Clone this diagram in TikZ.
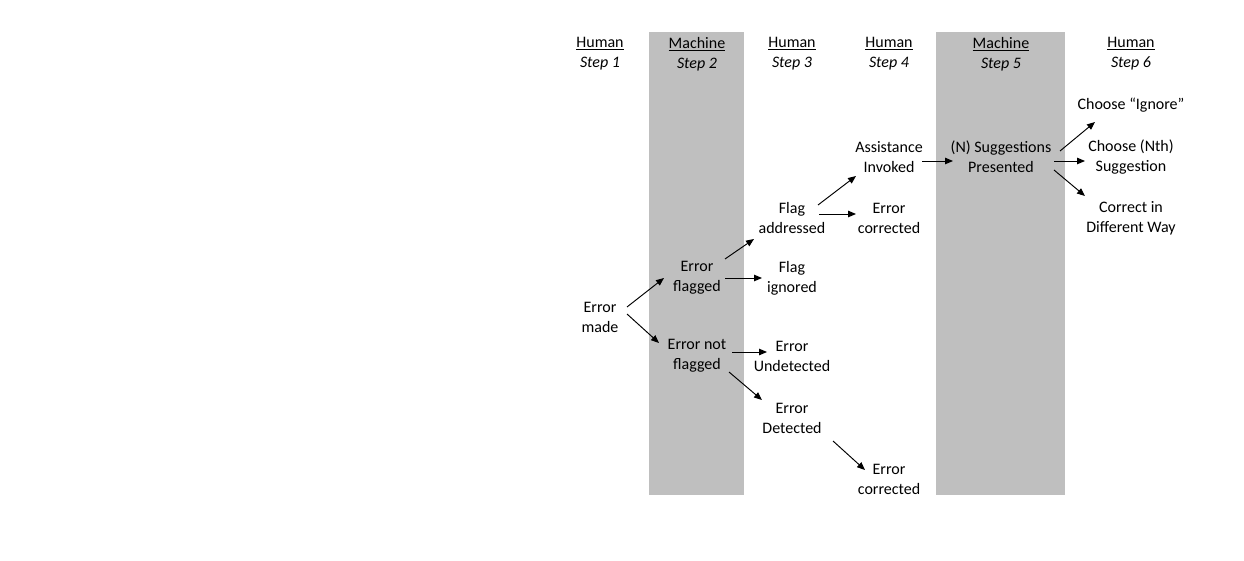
\documentclass[tikz,border=0pt]{standalone}
\usepackage{fontspec}
\setmainfont{Carlito}
\usetikzlibrary{arrows.meta}
\definecolor{shade}{HTML}{BFBFBF}
\tikzset{
  lbl/.style={align=center, inner sep=0pt, font=\fontsize{16}{20}\selectfont},
  arr/.style={-{Triangle[length=8pt,width=6.5pt]}, line width=0.95pt, black},
  lane/.style={fill=shade, draw=none}
}
\begin{document}
\begin{tikzpicture}[x=1pt,y=-1pt]
\useasboundingbox (0,0) rectangle (1244,561);
\fill[lane] (649,32) rectangle (744,495);
\fill[lane] (936,32) rectangle (1065,495);
% headers
\node[lbl] (h1) at (600,54) {\underline{Human}\\\textit{Step 1}};
\node[lbl] (h2) at (697,54) {\underline{Machine}\\\textit{Step 2}};
\node[lbl] (h3) at (792,54) {\underline{Human}\\\textit{Step 3}};
\node[lbl] (h4) at (889,54) {\underline{Human}\\\textit{Step 4}};
\node[lbl] (h5) at (1001,54) {\underline{Machine}\\\textit{Step 5}};
\node[lbl] (h6) at (1131,54) {\underline{Human}\\\textit{Step 6}};
% nodes
\node[lbl] (made) at (600,317) {Error\\made};
\node[lbl] (flagged) at (697,278) {Error\\flagged};
\node[lbl] (notflagged) at (697,356) {Error not\\flagged};
\node[lbl] (addressed) at (792,218) {Flag\\addressed};
\node[lbl] (ignored) at (792,278) {Flag\\ignored};
\node[lbl] (undetected) at (792,356) {Error\\Undetected};
\node[lbl] (detected) at (792,418) {Error\\Detected};
\node[lbl] (assist) at (889,157) {Assistance\\Invoked};
\node[lbl] (corrA) at (889,218) {Error\\corrected};
\node[lbl] (corrB) at (889,479) {Error\\corrected};
\node[lbl] (sugg) at (1001,157) {(N) Suggestions\\Presented};
\node[lbl] (ign) at (1131,105) {Choose “Ignore”};
\node[lbl] (nth) at (1131,157) {Choose (Nth)\\Suggestion};
\node[lbl] (diff) at (1131,218) {Correct in\\Different Way};
% arrows
\draw[arr] ([shift={(27,-10)}]made.center) -- ([shift={(-33,0)}]flagged.center);
\draw[arr] ([shift={(27,-3)}]made.center) -- ([shift={(-38,-13)}]notflagged.center);
\draw[arr] ([shift={(28,-19)}]flagged.center) -- ([shift={(-38,21)}]addressed.center);
\draw[arr] ([shift={(28,0)}]flagged.center) -- ([shift={(-30,0)}]ignored.center);
\draw[arr] ([shift={(35,-4)}]notflagged.center) -- ([shift={(-25,-4)}]undetected.center);
\draw[arr] ([shift={(32,16)}]notflagged.center) -- ([shift={(-30,-18)}]detected.center);
\draw[arr] ([shift={(26,-13)}]addressed.center) -- ([shift={(-33,19)}]assist.center);
\draw[arr] ([shift={(27,-4)}]addressed.center) -- ([shift={(-33,-4)}]corrA.center);
\draw[arr] ([shift={(41,23)}]detected.center) -- ([shift={(-24,-9)}]corrB.center);
\draw[arr] ([shift={(33,4)}]assist.center) -- ([shift={(-48,4)}]sugg.center);
\draw[arr] ([shift={(59,-6)}]sugg.center) -- ([shift={(-36,17)}]ign.center);
\draw[arr] ([shift={(53,4)}]sugg.center) -- ([shift={(-46,4)}]nth.center);
\draw[arr] ([shift={(53,13)}]sugg.center) -- ([shift={(-46,-22)}]diff.center);
\end{tikzpicture}
\end{document}
